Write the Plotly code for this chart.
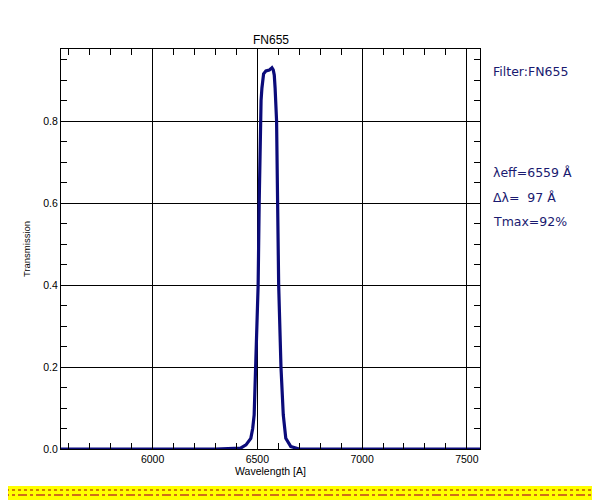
import plotly.graph_objects as go

wavelength = [5563, 6300, 6420, 6446, 6469, 6478, 6485, 6493, 6501, 6504, 6509, 6514,
              6518, 6522, 6526, 6530, 6541, 6557, 6566, 6570, 6576, 6581, 6585, 6589,
              6592, 6597, 6602, 6613, 6618, 6624, 6636, 6660, 6700, 7563]
transmission = [0.0, 0.0, 0.002, 0.01, 0.026, 0.05, 0.083, 0.2, 0.31, 0.40, 0.6, 0.8,
                0.85, 0.88, 0.905, 0.915, 0.922, 0.924, 0.928, 0.93, 0.925, 0.912, 0.88,
                0.84, 0.8, 0.6, 0.4, 0.2, 0.13, 0.083, 0.026, 0.006, 0.0, 0.0]

filter_name = "FN655"
info_lines = ["Filter:FN655", "λeff=6559 Å", "Δλ=  97 Å", "Tmax=92%"]
info_y = [71, 172, 197, 221]

navy = "#0b0b7a"
text_navy = "#1a1a70"

# page offset of the figure inside the browser body
OFF = 8
W, H = 600 - OFF, 500 - OFF
L, R, T, B = 61 - OFF, 120, 49 - OFF, 51
PW, PH = W - L - R, H - T - B


def px(xpix):
    return (xpix - OFF - L) / PW


def py(ypix):
    return (H - B - (ypix - OFF)) / PH


fig = go.Figure()
fig.add_trace(go.Scatter(x=wavelength, y=transmission, mode="lines",
                         line=dict(color=navy, width=3.2),
                         showlegend=False, hoverinfo="skip"))

font = "Liberation Sans, Arial"
axis_common = dict(showline=True, linecolor="black", linewidth=1, mirror="ticks",
                   ticks="inside", ticklen=0, tickcolor="black",
                   showgrid=True, gridcolor="black", gridwidth=1, zeroline=False,
                   tickfont=dict(family=font, size=10.5, color="black"))

fig.update_xaxes(range=[5563, 7563], tickvals=[6000, 6500, 7000, 7500],
                 ticktext=["6000", "6500", "7000", "7500"],
                 minor=dict(dtick=100, tick0=6000, ticks="inside", ticklen=6,
                            tickcolor="black", showgrid=False),
                 title=dict(text="Wavelength [A]", standoff=2,
                            font=dict(family=font, size=10.5, color="black")),
                 **axis_common)
fig.update_yaxes(range=[0, 0.9756], tickvals=[0, 0.2, 0.4, 0.6, 0.8],
                 ticktext=["0.0", "0.2", "0.4", "0.6", "0.8"],
                 minor=dict(dtick=0.05, tick0=0, ticks="inside", ticklen=6,
                            tickcolor="black", showgrid=False),
                 title=dict(text="Transmission", standoff=10,
                            font=dict(family=font, size=9.5, color="black")),
                 **axis_common)

annotations = [dict(text=filter_name, x=0.5, xref="paper", y=py(40), yref="paper",
                    yanchor="middle", showarrow=False,
                    font=dict(family=font, size=12, color="black"))]
for txt, yp in zip(info_lines, info_y):
    annotations.append(dict(text=txt, x=px(491), xref="paper", y=py(yp), yref="paper",
                            showarrow=False, xanchor="left", yanchor="middle",
                            font=dict(family="DejaVu Sans", size=12.5, color=text_navy)))

x_left, x_right = px(0), px(600)
shapes = [dict(type="rect", xref="paper", yref="paper", x0=x_left, x1=x_right,
               y0=py(501), y1=py(486), fillcolor="#ffff00", line=dict(width=0), layer="below"),
          dict(type="line", xref="paper", yref="paper", x0=x_left, x1=x_right,
               y0=py(490), y1=py(490), line=dict(color="#d08000", width=2, dash="dot")),
          dict(type="line", xref="paper", yref="paper", x0=x_left, x1=x_right,
               y0=py(495), y1=py(495), line=dict(color="#c04020", width=1.5, dash="dashdot"))]

fig.update_layout(width=W, height=H, margin=dict(l=L, r=R, t=T, b=B, autoexpand=False),
                  paper_bgcolor="white", plot_bgcolor="white",
                  annotations=annotations, shapes=shapes, showlegend=False)

fig.write_html("out.html")
